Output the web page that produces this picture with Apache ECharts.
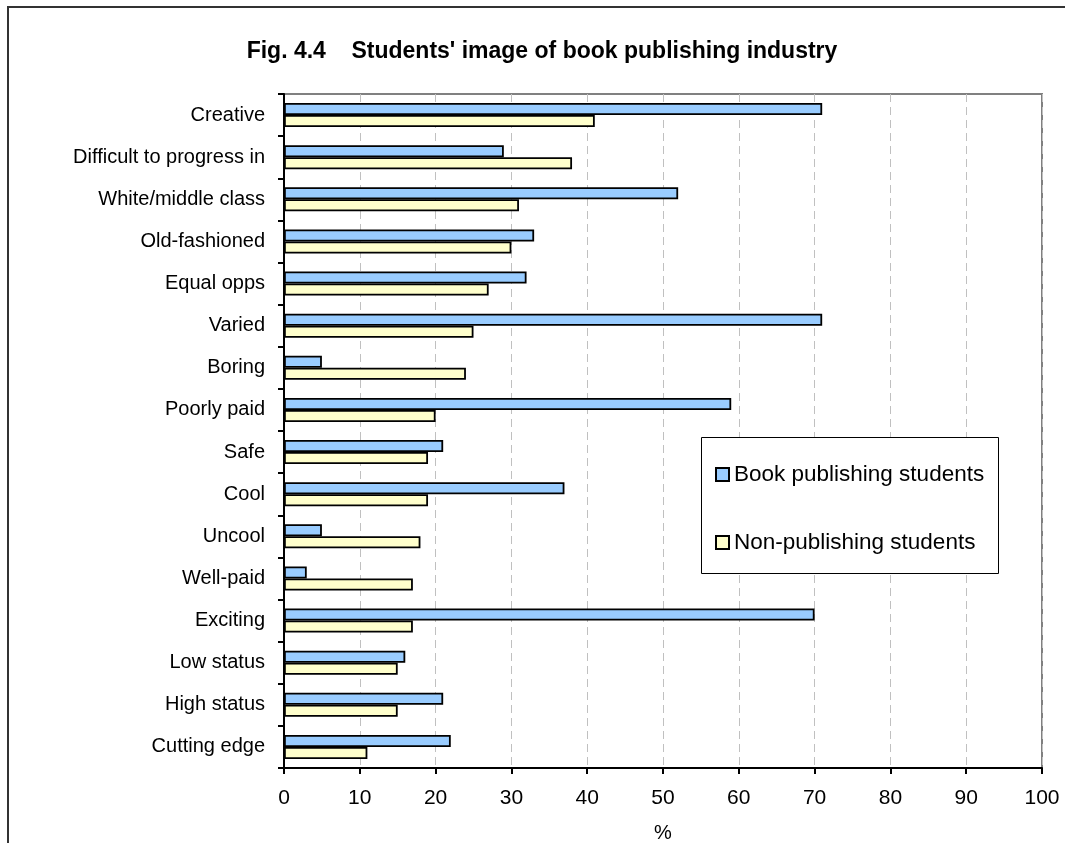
<!DOCTYPE html>
<html>
<head>
<meta charset="utf-8">
<script src="https://cdn.jsdelivr.net/npm/echarts@6/dist/echarts.min.js"></script>
<style>html,body{margin:0;padding:0;background:#fff}#c{width:1065px;height:843px}</style>
</head>
<body>
<div id="c"></div>
<script>
const titleText = "Fig. 4.4    Students' image of book publishing industry";
const categories = ["Creative", "Difficult to progress in", "White/middle class", "Old-fashioned", "Equal opps", "Varied", "Boring", "Poorly paid", "Safe", "Cool", "Uncool", "Well-paid", "Exciting", "Low status", "High status", "Cutting edge"];
const seriesNames = ["Book publishing students", "Non-publishing students"];
const bookPublishing = [71, 29, 52, 33, 32, 71, 5, 59, 21, 37, 5, 3, 70, 16, 21, 22];
const nonPublishing = [41, 38, 31, 30, 27, 25, 24, 20, 19, 19, 18, 17, 17, 15, 15, 11];
const xTicks = {min: 0, max: 100, interval: 10};
const axisName = "%";

const FONT = "'Liberation Sans', Arial, sans-serif";
const chart = echarts.init(document.getElementById('c'), null, {renderer: 'canvas'});
chart.setOption({
  animation: false,
  backgroundColor: '#fff',
  textStyle: {fontFamily: FONT, color: '#000'},
  title: {
    text: titleText,
    left: 537, top: 35, textAlign: 'center',
    textStyle: {fontFamily: FONT, fontSize: 23, fontWeight: 'bold', color: '#000'}
  },
  graphic: [
    {type: 'rect', z: 1, silent: true, shape: {x: 8, y: 7, width: 1200, height: 1000},
     style: {fill: 'none', stroke: '#333', lineWidth: 2}},
    {type: 'rect', z: 3, silent: true, shape: {x: 701.5, y: 437.5, width: 297, height: 136},
     style: {fill: '#fff', stroke: '#000', lineWidth: 1}}
  ],
  legend: {
    orient: 'vertical', left: 710, top: 458, z: 10, padding: 5,
    itemWidth: 13, itemHeight: 13, itemGap: 45,
    icon: 'rect',
    data: seriesNames,
    textStyle: {fontFamily: FONT, fontSize: 22.5, color: '#000'}
  },
  grid: {left: 284, right: 23, top: 94, bottom: 75, show: true, borderColor: '#808080', borderWidth: 2,
         containLabel: false, outerBoundsMode: 'none'},
  xAxis: {
    type: 'value', min: xTicks.min, max: xTicks.max, interval: xTicks.interval,
    name: axisName, nameLocation: 'middle', nameGap: 55,
    nameTextStyle: {fontFamily: FONT, fontSize: 20, color: '#000'},
    axisLine: {show: true, lineStyle: {color: '#000', width: 2}},
    axisTick: {show: true, length: 6, lineStyle: {color: '#000', width: 2}},
    axisLabel: {fontFamily: FONT, fontSize: 21, color: '#000', margin: 20},
    splitLine: {show: true, lineStyle: {color: '#c0c0c0', width: 1, type: [8, 5]}}
  },
  yAxis: {
    type: 'category', data: categories, inverse: true,
    axisLine: {show: true, lineStyle: {color: '#000', width: 2}},
    axisTick: {show: true, length: 6, lineStyle: {color: '#000', width: 2}},
    axisLabel: {fontFamily: FONT, fontSize: 20, color: '#000', margin: 19},
    splitLine: {show: false}
  },
  series: [
    {name: seriesNames[0], type: 'bar', data: bookPublishing, barWidth: 12, barGap: '0%',
     itemStyle: {color: '#99CCFF', borderColor: '#000', borderWidth: 1.8}},
    {name: seriesNames[1], type: 'bar', data: nonPublishing, barWidth: 12, barGap: '0%',
     itemStyle: {color: '#FFFFCC', borderColor: '#000', borderWidth: 1.8}}
  ]
});
</script>
</body>
</html>
